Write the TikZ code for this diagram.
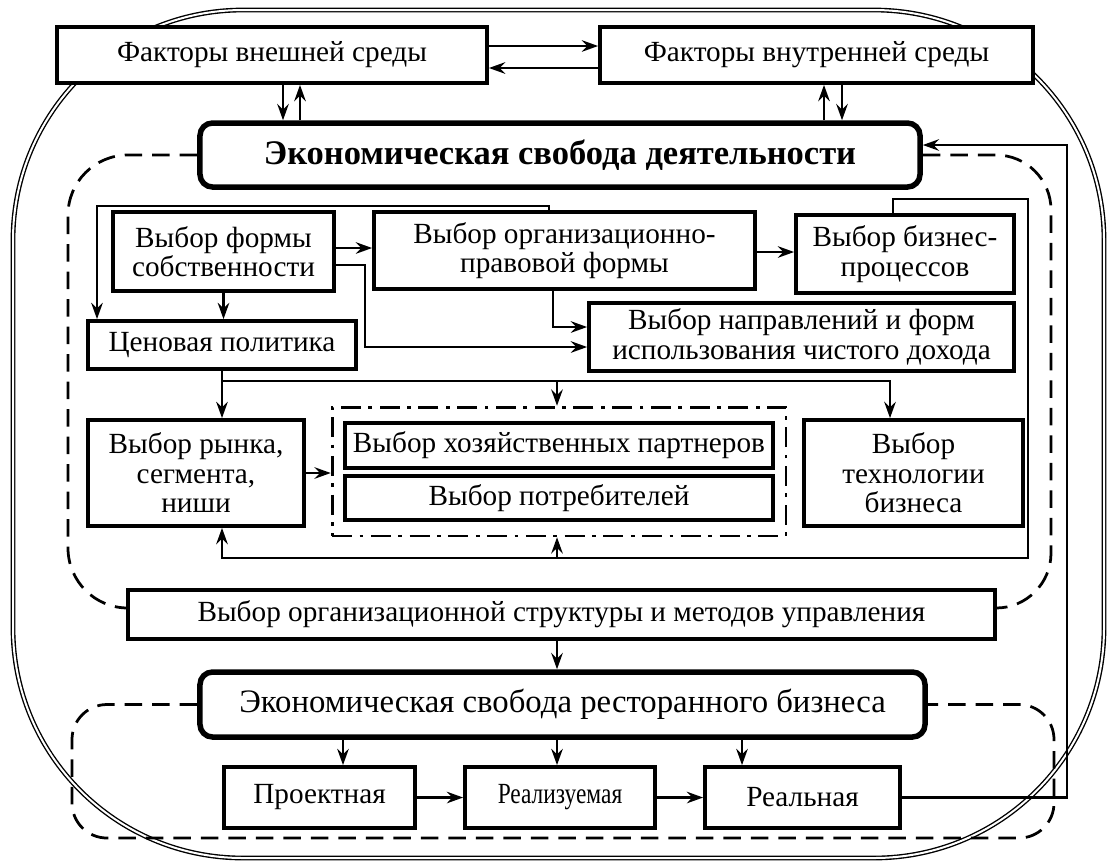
\documentclass[tikz,border=0pt]{standalone}
\usepackage{fontspec}
\setmainfont{Liberation Serif}
\usepackage{graphicx}
\usetikzlibrary{arrows.meta, positioning, fit}

\begin{document}
\begin{tikzpicture}[
    x=0.4pt, y=-0.4pt,
    box/.style={
        draw,
        fill=white,
        line width=1.5pt,
        align=center,
        inner sep=0pt,
        font=\fontsize{11.7}{11.8}\selectfont
    },
    keybox/.style={
        box,
        rounded corners=5pt,
        line width=2.2pt,
        font=\fontsize{13.1}{14}\selectfont
    },
    group/.style={
        draw,
        line width=1.1pt,
        dash pattern=on 8pt off 3pt on 1.5pt off 3pt,
        inner xsep=4.4pt,
        inner ysep=5.6pt
    },
    region/.style={
        line width=1.1pt,
        dash pattern=on 7pt off 4pt
    },
    frame/.style={
        double,
        line width=0.55pt,
        double distance=0.8pt,
        rounded corners=92pt
    },
    link/.style={
        line width=1.1pt
    },
    arrow/.style={
        link,
        -{Stealth[length=6.5pt, width=4.6pt, inset=2.2pt]}
    }
]

\useasboundingbox (0,0) rectangle (1110,862);

\draw[frame] (13,10) rectangle (1104,858);

\node[box, minimum width=172pt, minimum height=22.4pt] (external) at (272,55) {Факторы внешней среды};
\node[box, minimum width=173.2pt, minimum height=22.4pt] (internal) at (816.5,55) {Факторы внутренней среды};

\node[keybox, font=\fontsize{13.8}{14}\selectfont\bfseries, minimum width=288pt, minimum height=25.6pt] (activity) at (560,155) {Экономическая свобода деятельности};

\node[box, minimum width=88.4pt, minimum height=31.6pt] (ownership) at (223.5,251.5) {Выбор формы\\собственности};
\node[box, minimum width=152.4pt, minimum height=30.8pt] (legalform) at (564.5,250.5) {Выбор организационно-\\правовой формы};
\node[box, minimum width=87.2pt, minimum height=31.2pt] (processes) at (905,254) {Выбор бизнес-\\процессов};
\node[box, minimum width=170pt, minimum height=27.2pt] (income) at (801.5,337) {Выбор направлений и форм\\использования чистого дохода};
\node[box, minimum width=107.2pt, minimum height=19.2pt] (pricing) at (222,345) {Ценовая политика};

\node[box, minimum width=86.4pt, minimum height=42.4pt] (market) at (196,473) {Выбор рынка,\\сегмента,\\ниши};
\node[box, minimum width=171.2pt, minimum height=18pt] (partners) at (559,445.5) {Выбор хозяйственных партнеров};
\node[box, minimum width=171.2pt, minimum height=17.6pt] (consumers) at (559,498) {Выбор потребителей};
\node[group, fit=(partners)(consumers)] (counterparts) {};
\node[box, minimum width=87.6pt, minimum height=42.4pt] (technology) at (913.5,473) {Выбор\\технологии\\бизнеса};

\node[box, minimum width=346.8pt, minimum height=19.6pt] (structure) at (561.5,614.5) {Выбор организационной структуры и методов управления};

\node[keybox, minimum width=290pt, minimum height=26pt] (restaurant) at (562.5,704.5) {Экономическая свобода ресторанного бизнеса};

\node[box, minimum width=76.4pt, minimum height=24.4pt] (project) at (319.5,797.5) {Проектная};
\node[box, minimum width=76pt, minimum height=24.4pt] (feasible) at (560,797.5) {\scalebox{0.8}[1]{Реализуемая}};
\node[box, minimum width=78pt, minimum height=24.4pt] (actual) at (802.5,797.5) {Реальная};

\draw[region, rounded corners=24pt] (activity.west) -| (68,608) -- (structure.west |- 0,608);
\draw[region, rounded corners=22pt] (activity.east) -| (1051,608) -- (structure.east |- 0,608);
\draw[region, rounded corners=14pt] (restaurant.west) -| (72,838) -| (1054,704.5) -- (restaurant.east);

\draw[arrow] (external.east |- 0,46) -- (internal.west |- 0,46);
\draw[arrow] (internal.west |- 0,68) -- (external.east |- 0,68);
\draw[arrow] (external.south -| 283,0) -- (activity.north -| 283,0);
\draw[arrow] (activity.north -| 300,0) -- (external.south -| 300,0);
\draw[arrow] (activity.north -| 824,0) -- (internal.south -| 824,0);
\draw[arrow] (internal.south -| 842,0) -- (activity.north -| 842,0);

\draw[arrow] (legalform.north -| 549,0) |- (97,206) -- (pricing.north -| 97,0);
\draw[arrow] (ownership.east |- 0,248) -- (legalform.west |- 0,248);
\draw[arrow] (legalform.east |- 0,252) -- (processes.west |- 0,252);
\draw[arrow] (ownership.south) -- (pricing.north -| ownership.south);
\draw[arrow] (ownership.east |- 0,265) -| (365,347) -- (income.west |- 0,347);
\draw[arrow] (legalform.south -| 553,0) |- (income.west |- 0,327);

\draw[arrow] (pricing.south) -- (market.north -| pricing.south);
\draw[arrow] (pricing.south) |- (890,381) -- (technology.north -| 890,0);
\draw[arrow] (557,381) -- (counterparts.north -| 557,0);
\draw[arrow] (market.east) -- (counterparts.west |- market.east);

\draw[arrow] (processes.north -| 893,0) |- (1028,199) |- (222,558) -- (market.south -| 222,0);
\draw[arrow] (557,558) -- (counterparts.south -| 557,0);

\draw[arrow] (structure.south -| 557,0) -- (restaurant.north -| 557,0);
\draw[arrow] (restaurant.south -| 343,0) -- (project.north -| 343,0);
\draw[arrow] (restaurant.south -| 557,0) -- (feasible.north -| 557,0);
\draw[arrow] (restaurant.south -| 742,0) -- (actual.north -| 742,0);
\draw[arrow] (project) -- (feasible);
\draw[arrow] (feasible) -- (actual);

\draw[arrow] (actual.east) -| (1067,145) -- (activity.east |- 0,145);

\end{tikzpicture}
\end{document}
